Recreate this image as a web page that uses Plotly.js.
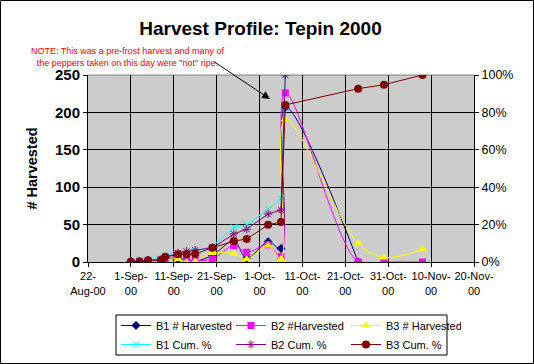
<!DOCTYPE html>
<html>
<head>
<meta charset="utf-8">
<script src="https://cdn.plot.ly/plotly-3.0.1.min.js"></script>
<style>html,body{margin:0;padding:0;background:#fff;}#chart{width:534px;height:364px;}</style>
</head>
<body>
<div id="chart"></div>
<script>
// ---- data ----
var harvestDates = ['2000-09-01','2000-09-03','2000-09-05','2000-09-08','2000-09-09','2000-09-12','2000-09-14','2000-09-16','2000-09-20','2000-09-25','2000-09-28','2000-10-03','2000-10-06','2000-10-07','2000-10-24','2000-10-30','2000-11-08'];
var b1Harvested = [1, 1, 2, 2, 5, 4, 2, 1, 9, 28, 5, 27, 18, 207, 0, null, null];
var b2Harvested = [0, 1, 1, 2, 3, 8, 3, 2, 4, 22, 13, 23, 7, 226, 0, 0, 0];
var b3Harvested = [1, 0, 2, 1, 5, 4, 0, 1, 12, 11, 4, 22, 4, 191, 25, 6, 17];
var b1CumPct = [0.3, 0.6, 1.3, 1.9, 3.5, 4.8, 5.5, 5.8, 8.5, 18.6, 19.8, 28.3, 34, 100, null, null, null];
var b2CumPct = [0, 0.3, 0.6, 1.3, 2.2, 4.8, 5.7, 6.4, 7.6, 15, 17.5, 25.7, 27.8, 100, null, null, null];
var b3CumPct = [0.2, 0.2, 0.9, 1.1, 2.8, 4.1, 4.1, 4.3, 7.6, 11.2, 12.3, 19.9, 21.4, 84, 92.7, 94.8, 100];
var xTickVals = ['2000-08-22','2000-09-01','2000-09-11','2000-09-21','2000-10-01','2000-10-11','2000-10-21','2000-10-31','2000-11-10','2000-11-20'];
var xTickText = ['22-<br>Aug-00','1-Sep-<br>00','11-Sep-<br>00','21-Sep-<br>00','1-Oct-<br>00','11-Oct-<br>00','21-Oct-<br>00','31-Oct-<br>00','10-Nov-<br>00','20-Nov-<br>00'];
var seriesNames = ['B1 # Harvested','B2 #Harvested','B3 # Harvested','B1 Cum. %','B2 Cum. %','B3 Cum. %'];
var titleText = 'Harvest Profile: Tepin 2000';
var noteText = 'NOTE: This was a pre-frost harvest and many of<br>the peppers taken on this day were "not" ripe.';

var FONT = 'Liberation Sans, Arial, sans-serif';

var traces = [
  {x: harvestDates, y: b1Harvested, name: seriesNames[0], type: 'scatter', mode: 'lines+markers',
   line: {color: '#000080', width: 1, shape: 'spline', smoothing: 1},
   marker: {symbol: 'diamond', size: 7, color: '#000080'}},
  {x: harvestDates, y: b2Harvested, name: seriesNames[1], type: 'scatter', mode: 'lines+markers',
   line: {color: '#ff00ff', width: 1, shape: 'spline', smoothing: 1},
   marker: {symbol: 'square', size: 7, color: '#ff00ff'}},
  {x: harvestDates, y: b3Harvested, name: seriesNames[2], type: 'scatter', mode: 'lines+markers',
   line: {color: '#ffff00', width: 1, shape: 'spline', smoothing: 1},
   marker: {symbol: 'triangle-up', size: 8, color: '#ffff00'}},
  {x: harvestDates, y: b1CumPct, name: seriesNames[3], type: 'scatter', mode: 'lines+markers', yaxis: 'y2',
   line: {color: '#00ffff', width: 1},
   marker: {symbol: 'x-thin-open', size: 6, color: '#00ffff', line: {color: '#00ffff', width: 1}}},
  {x: harvestDates, y: b2CumPct, name: seriesNames[4], type: 'scatter', mode: 'lines+markers', yaxis: 'y2',
   line: {color: '#800080', width: 1},
   marker: {symbol: 'asterisk-open', size: 7, color: '#800080', line: {color: '#800080', width: 1}}},
  {x: harvestDates, y: b3CumPct, name: seriesNames[5], type: 'scatter', mode: 'lines+markers', yaxis: 'y2',
   line: {color: '#800000', width: 1},
   marker: {symbol: 'circle', size: 8, color: '#800000'}}
];

var W = 534, H = 364, L = 88, R = 474, T = 75, B = 262;
var pw = R - L, ph = B - T;
function px(x){ return (x - L) / pw; }
function py(y){ return (B - y) / ph; }

var layout = {
  width: W, height: H,
  margin: {l: L, r: W - R, t: T, b: H - B, pad: 0, autoexpand: false},
  paper_bgcolor: '#ffffff',
  plot_bgcolor: '#cccccc',
  font: {family: FONT, color: '#000000', size: 12},
  showlegend: true,
  title: {text: titleText, font: {family: FONT, size: 19, weight: 'bold', color: '#000'}, automargin: false,
          x: 260.5 / W, xanchor: 'center', xref: 'container', y: 1 - 28 / H, yanchor: 'middle', yref: 'container'},
  xaxis: {type: 'date', range: ['2000-08-22', '2000-11-20'], tickmode: 'array', tickvals: xTickVals, ticktext: xTickText,
          tickangle: 0, automargin: false,
          showgrid: true, gridcolor: '#000000', gridwidth: 1, showline: true, linecolor: '#000000', linewidth: 1,
          ticks: 'outside', ticklen: 4, tickcolor: '#000', tickfont: {family: FONT, size: 11}, zeroline: false, fixedrange: true},
  yaxis: {range: [0, 250], dtick: 50, tick0: 0, showgrid: true, gridcolor: '#000000', gridwidth: 1, automargin: false,
          showline: true, linecolor: '#000000', linewidth: 1, ticks: 'outside', ticklen: 4, tickcolor: '#000',
          tickfont: {family: FONT, size: 15, weight: 'bold'}, zeroline: false,
          title: {text: '# Harvested', font: {family: FONT, size: 14.5, weight: 'bold'}, standoff: 13}},
  yaxis2: {range: [0, 100], dtick: 20, tick0: 0, overlaying: 'y', side: 'right', showgrid: false, automargin: false,
           showline: true, linecolor: '#000000', linewidth: 1, ticks: 'outside', ticklen: 4, tickcolor: '#000',
           ticksuffix: '%', tickfont: {family: FONT, size: 12.5}, zeroline: false},
  legend: {orientation: 'h', x: px(116), y: py(311), xanchor: 'left', yanchor: 'top',
           bgcolor: 'rgba(0,0,0,0)', borderwidth: 0,
           font: {family: FONT, size: 11}, entrywidth: 70, entrywidthmode: 'pixels', itemwidth: 30, tracegroupgap: 0},
  annotations: [
    {xref: 'paper', yref: 'paper', x: px(127.5), y: py(56.5), xanchor: 'center', yanchor: 'middle',
     text: noteText, showarrow: false, font: {family: FONT, size: 9, color: '#ff0000'}, align: 'center'},
    {xref: 'paper', yref: 'paper', x: px(270), y: py(99), text: '', showarrow: true,
     ax: 213 - 270, ay: 61 - 99, arrowhead: 2, arrowsize: 1.6, arrowwidth: 1, arrowcolor: '#000000', standoff: 0}
  ],
  shapes: [
    {type: 'line', xref: 'paper', yref: 'paper', x0: 0, x1: 1, y0: 1, y1: 1, line: {color: '#808080', width: 1}, layer: 'between'},
    {type: 'rect', xref: 'paper', yref: 'paper', x0: px(116), x1: px(447), y0: py(355), y1: py(315),
     line: {color: '#000000', width: 1}, fillcolor: '#ffffff', layer: 'above'},
    {type: 'rect', xref: 'paper', yref: 'paper', x0: px(0.5), x1: px(533.5), y0: py(363.5), y1: py(0.5),
     line: {color: '#000000', width: 1}, fillcolor: 'rgba(0,0,0,0)', layer: 'above'}
  ]
};

Plotly.newPlot('chart', traces, layout, {displayModeBar: false, staticPlot: true});
</script>
</body>
</html>
